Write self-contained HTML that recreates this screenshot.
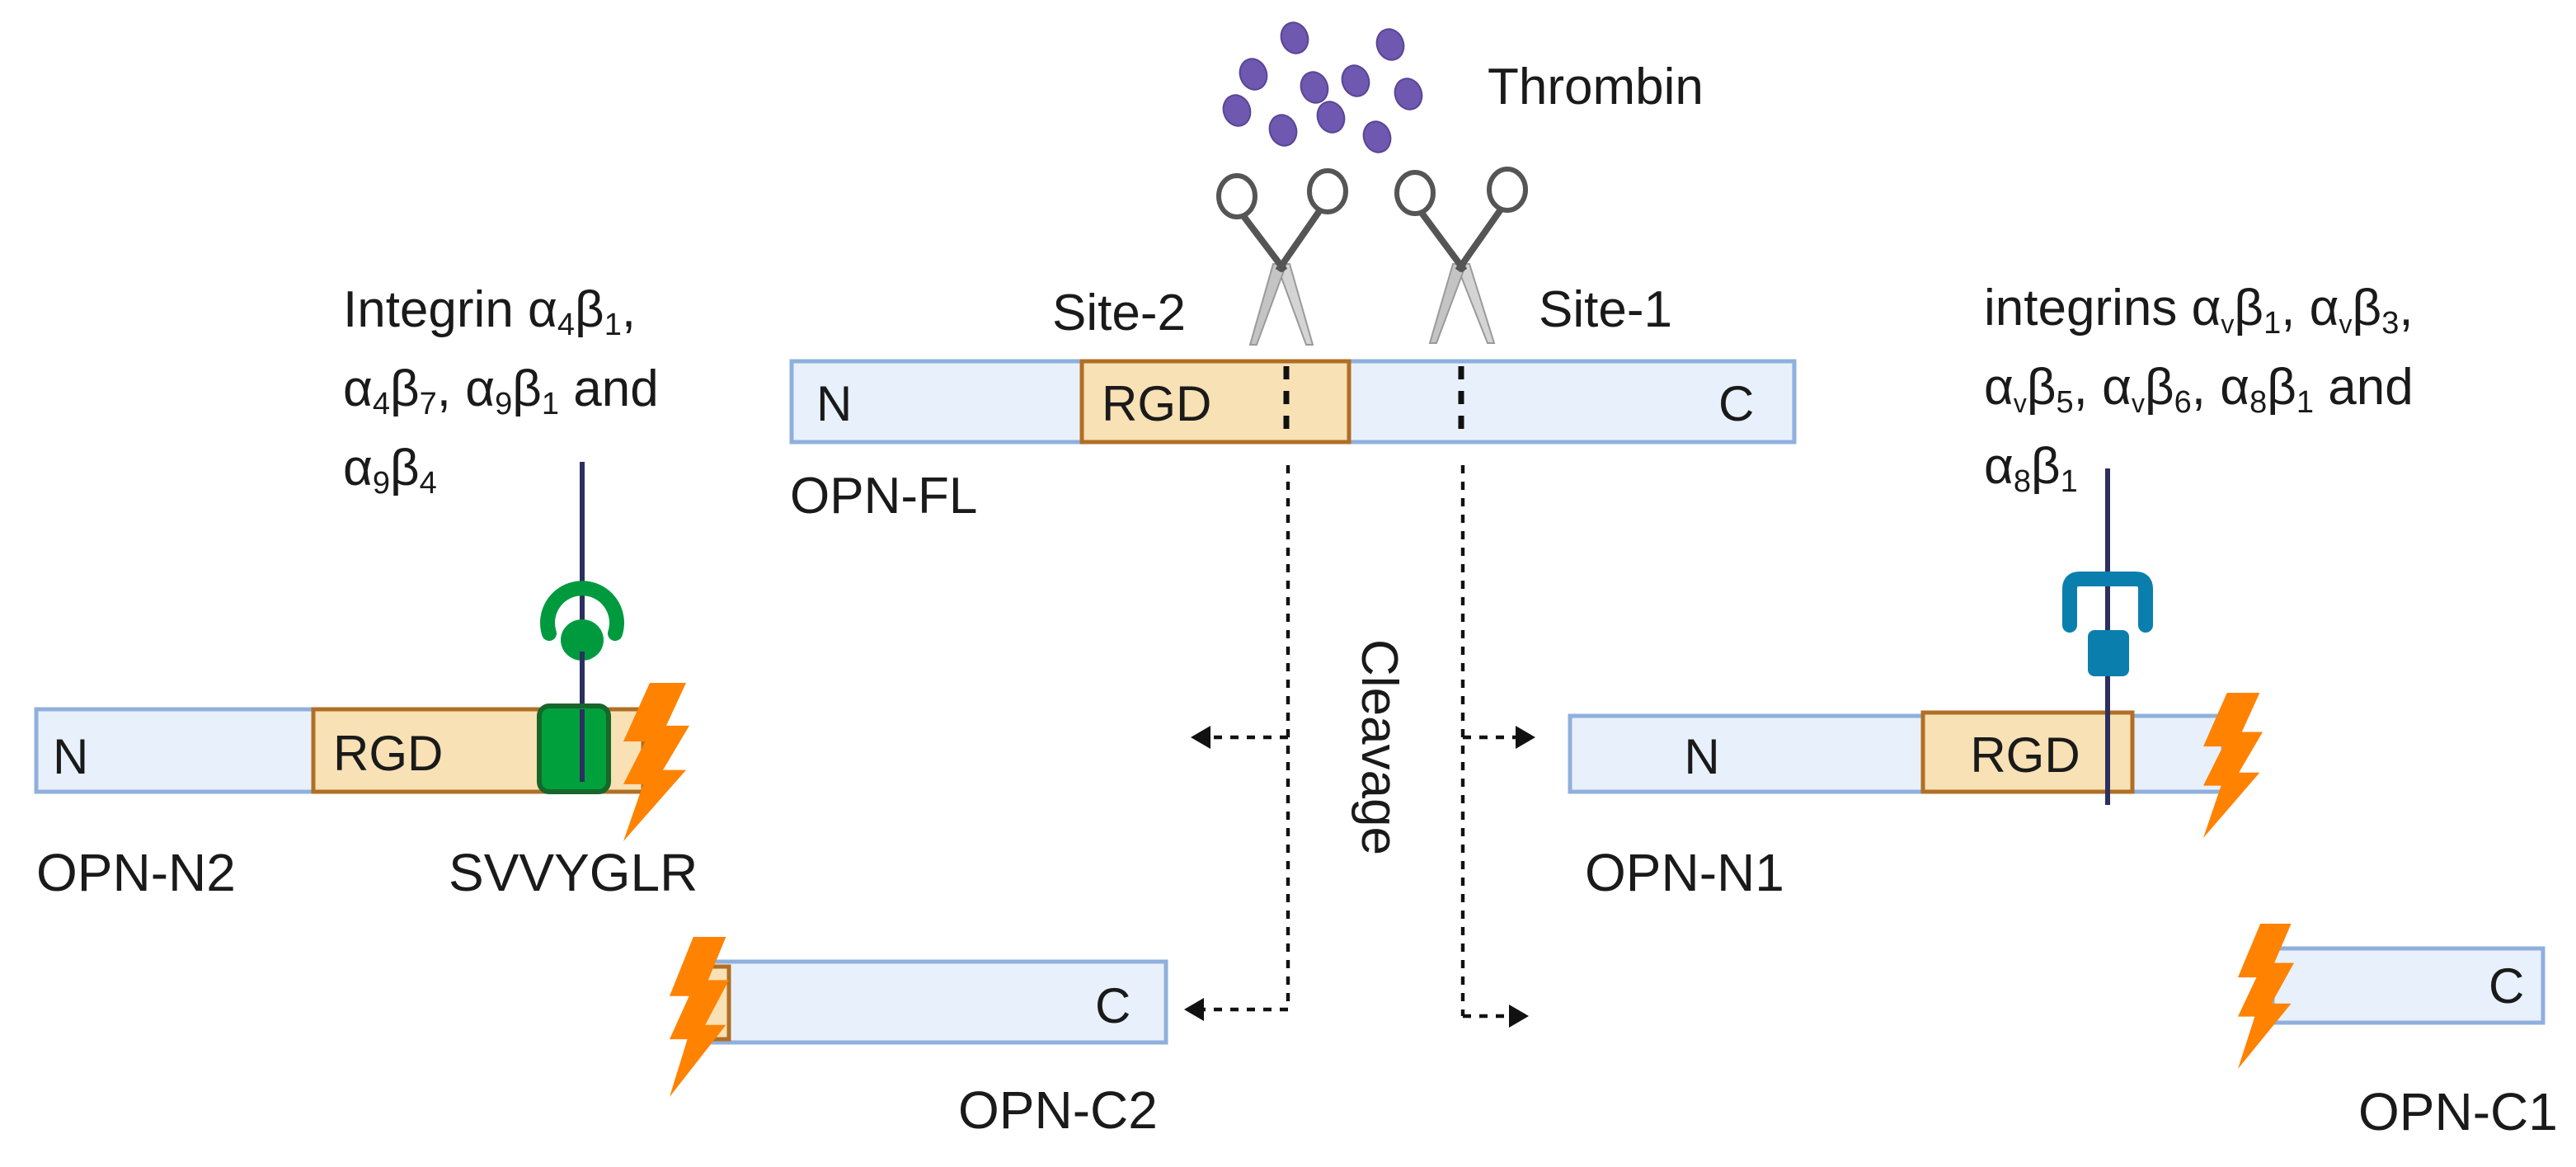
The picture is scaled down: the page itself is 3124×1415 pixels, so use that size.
<!DOCTYPE html>
<html><head><meta charset="utf-8"><style>
html,body{margin:0;padding:0;background:#fff;}
svg{display:block;}
text{font-family:"Liberation Sans",sans-serif;fill:#1a1a1a;}
</style></head><body>
<svg width="3124" height="1415" viewBox="0 0 1562 707.5" xmlns="http://www.w3.org/2000/svg">
<defs>
<polygon id="bolt" points="0.4,0 0.95,0 0.65,0.27 1,0.27 0.6,0.55 0.95,0.55 0,1 0.3,0.64 0,0.64 0.33,0.37 0,0.37" fill="#ff8200"/>
</defs>
<rect width="1562" height="707.5" fill="#fff"/>

<!-- Thrombin dots -->
<g fill="#6f58b0" stroke="#5a4596" stroke-width="1">
<ellipse cx="785" cy="23" rx="8" ry="9.5" transform="rotate(-20 785 23)"/>
<ellipse cx="843" cy="27" rx="8" ry="9.5" transform="rotate(-20 843 27)"/>
<ellipse cx="760" cy="45" rx="8" ry="9.5" transform="rotate(-20 760 45)"/>
<ellipse cx="797" cy="53" rx="8" ry="9.5" transform="rotate(-20 797 53)"/>
<ellipse cx="822" cy="49" rx="8" ry="9.5" transform="rotate(-20 822 49)"/>
<ellipse cx="854" cy="57" rx="8" ry="9.5" transform="rotate(-20 854 57)"/>
<ellipse cx="750" cy="67" rx="8" ry="9.5" transform="rotate(-20 750 67)"/>
<ellipse cx="807" cy="71" rx="8" ry="9.5" transform="rotate(-20 807 71)"/>
<ellipse cx="778" cy="79" rx="8" ry="9.5" transform="rotate(-20 778 79)"/>
<ellipse cx="835" cy="83" rx="8" ry="9.5" transform="rotate(-20 835 83)"/>
</g>
<text x="902" y="63" font-size="31">Thrombin</text>

<!-- Scissors left -->
<g>
<polygon points="774,160 782,160 796,209 792,209" fill="#d4d4d4" stroke="#9a9a9a" stroke-width="1"/>
<polygon points="772,160 780,160 762,209 758,209" fill="#c4c4c4" stroke="#9a9a9a" stroke-width="1"/>
<line x1="754" y1="131" x2="779" y2="164" stroke="#555" stroke-width="4"/>
<line x1="800" y1="128" x2="775" y2="164" stroke="#555" stroke-width="4"/>
<ellipse cx="750" cy="119" rx="11" ry="12.5" fill="none" stroke="#555" stroke-width="3"/>
<ellipse cx="805" cy="116" rx="11" ry="12.5" fill="none" stroke="#555" stroke-width="3"/>
</g>
<!-- Scissors right -->
<g>
<polygon points="883,160 891,160 906,208 902,208" fill="#d4d4d4" stroke="#9a9a9a" stroke-width="1"/>
<polygon points="881,160 889,160 871,208 867,208" fill="#c4c4c4" stroke="#9a9a9a" stroke-width="1"/>
<line x1="862" y1="129" x2="888" y2="164" stroke="#555" stroke-width="4"/>
<line x1="910" y1="127" x2="884" y2="164" stroke="#555" stroke-width="4"/>
<ellipse cx="858" cy="117" rx="11" ry="12.5" fill="none" stroke="#555" stroke-width="3"/>
<ellipse cx="914" cy="115" rx="11" ry="12.5" fill="none" stroke="#555" stroke-width="3"/>
</g>

<text x="638" y="200" font-size="31">Site-2</text>
<text x="933" y="198" font-size="31">Site-1</text>

<!-- OPN-FL bar -->
<rect x="480" y="219" width="608" height="49" fill="#e8f1fb" stroke="#8fb0dd" stroke-width="2.5"/>
<rect x="656" y="219" width="162" height="49" fill="#f7e1b5" stroke="#b06f24" stroke-width="2.5"/>
<text x="495" y="255" font-size="30">N</text>
<text x="668" y="255" font-size="30">RGD</text>
<text x="1042" y="255" font-size="30">C</text>
<line x1="780" y1="222" x2="780" y2="266" stroke="#111" stroke-width="3.5" stroke-dasharray="8,7"/>
<line x1="886" y1="222" x2="886" y2="266" stroke="#111" stroke-width="3.5" stroke-dasharray="8,7"/>
<text x="479" y="311" font-size="31">OPN-FL</text>

<!-- connectors -->
<g stroke="#111" stroke-width="2.2" stroke-dasharray="5,5" fill="none">
<line x1="781" y1="282" x2="781" y2="612"/>
<line x1="781" y1="612" x2="730" y2="612"/>
<line x1="781" y1="447" x2="733" y2="447"/>
<line x1="887" y1="282" x2="887" y2="616"/>
<line x1="887" y1="616" x2="918" y2="616"/>
<line x1="887" y1="447" x2="920" y2="447"/>
</g>
<g fill="#111">
<polygon points="722,447 734,440 734,454"/>
<polygon points="718,612 730,605 730,619"/>
<polygon points="931,447 919,440 919,454"/>
<polygon points="927,616 915,609 915,623"/>
</g>
<text x="0" y="0" font-size="31" text-anchor="middle" transform="translate(826 453) rotate(90)">Cleavage</text>

<!-- Left integrin text -->
<text x="208" y="198" font-size="31">Integrin α<tspan font-size="19" dy="5">4</tspan><tspan dy="-5">β</tspan><tspan font-size="19" dy="5">1</tspan><tspan dy="-5">,</tspan></text>
<text x="208" y="246" font-size="31">α<tspan font-size="19" dy="5">4</tspan><tspan dy="-5">β</tspan><tspan font-size="19" dy="5">7</tspan><tspan dy="-5">, α</tspan><tspan font-size="19" dy="5">9</tspan><tspan dy="-5">β</tspan><tspan font-size="19" dy="5">1</tspan><tspan dy="-5"> and</tspan></text>
<text x="208" y="294" font-size="31">α<tspan font-size="19" dy="5">9</tspan><tspan dy="-5">β</tspan><tspan font-size="19" dy="5">4</tspan></text>

<!-- OPN-N2 -->
<rect x="22" y="430" width="368" height="50" fill="#e8f1fb" stroke="#8fb0dd" stroke-width="2.5"/>
<rect x="190" y="430" width="200" height="50" fill="#f7e1b5" stroke="#b06f24" stroke-width="2.5"/>
<text x="32" y="469" font-size="30">N</text>
<text x="202" y="467" font-size="30">RGD</text>
<line x1="353" y1="280" x2="353" y2="474" stroke="#2d2f5f" stroke-width="3"/>
<path d="M333,384 A21,21 0 1 1 373,384" fill="none" stroke="#009a3e" stroke-width="9" stroke-linecap="round"/>
<ellipse cx="353" cy="388" rx="13" ry="12.5" fill="#009a3e"/>
<line x1="353" y1="395" x2="353" y2="430" stroke="#2d2f5f" stroke-width="3"/>
<rect x="327" y="428" width="42" height="52" rx="6" fill="#00a03c" stroke="#17662a" stroke-width="3"/>
<line x1="353" y1="430" x2="353" y2="474" stroke="#2d2f5f" stroke-width="3"/>
<use href="#bolt" transform="translate(378 414) scale(40 96)"/>
<text x="22" y="540" font-size="32">OPN-N2</text>
<text x="272" y="540" font-size="32">SVVYGLR</text>

<!-- Right integrin text -->
<text x="1203" y="197" font-size="31">integrins α<tspan font-size="16" dy="5">v</tspan><tspan dy="-5">β</tspan><tspan font-size="19" dy="5">1</tspan><tspan dy="-5">, α</tspan><tspan font-size="16" dy="5">v</tspan><tspan dy="-5">β</tspan><tspan font-size="19" dy="5">3</tspan><tspan dy="-5">,</tspan></text>
<text x="1203" y="245" font-size="31">α<tspan font-size="16" dy="5">v</tspan><tspan dy="-5">β</tspan><tspan font-size="19" dy="5">5</tspan><tspan dy="-5">, α</tspan><tspan font-size="16" dy="5">v</tspan><tspan dy="-5">β</tspan><tspan font-size="19" dy="5">6</tspan><tspan dy="-5">, α</tspan><tspan font-size="19" dy="5">8</tspan><tspan dy="-5">β</tspan><tspan font-size="19" dy="5">1</tspan><tspan dy="-5"> and</tspan></text>
<text x="1203" y="293" font-size="31">α<tspan font-size="19" dy="5">8</tspan><tspan dy="-5">β</tspan><tspan font-size="19" dy="5">1</tspan></text>

<!-- OPN-N1 -->
<rect x="952" y="434" width="396" height="46" fill="#e8f1fb" stroke="#8fb0dd" stroke-width="2.5"/>
<rect x="1166" y="432" width="127" height="48" fill="#f7e1b5" stroke="#b06f24" stroke-width="2.5"/>
<text x="1032" y="469" font-size="30" text-anchor="middle">N</text>
<text x="1228" y="468" font-size="30" text-anchor="middle">RGD</text>
<line x1="1278" y1="284" x2="1278" y2="488" stroke="#2d2f5f" stroke-width="3"/>
<path d="M1255,379 V357 Q1255,351 1261,351 H1295 Q1301,351 1301,357 V379" fill="none" stroke="#0a7fad" stroke-width="9" stroke-linecap="round" stroke-linejoin="round"/>
<rect x="1266" y="382" width="25" height="28" rx="4" fill="#0a7fad"/>
<line x1="1278" y1="410" x2="1278" y2="488" stroke="#2d2f5f" stroke-width="3"/>
<use href="#bolt" transform="translate(1336 420) scale(36 88)"/>
<text x="961" y="540" font-size="32">OPN-N1</text>

<!-- OPN-C2 -->
<rect x="425" y="583" width="282" height="49" fill="#e8f1fb" stroke="#8fb0dd" stroke-width="2.5"/>
<rect x="425" y="586" width="17" height="44" fill="#f7e1b5" stroke="#b06f24" stroke-width="2.5"/>
<use href="#bolt" transform="translate(406 568) scale(36 97)"/>
<text x="664" y="620" font-size="30">C</text>
<text x="581" y="684" font-size="32">OPN-C2</text>

<!-- OPN-C1 -->
<rect x="1378" y="575" width="164" height="45" fill="#e8f1fb" stroke="#8fb0dd" stroke-width="2.5"/>
<use href="#bolt" transform="translate(1357 560) scale(34 88)"/>
<text x="1509" y="608" font-size="30">C</text>
<text x="1430" y="685" font-size="32">OPN-C1</text>
</svg>
</body></html>
